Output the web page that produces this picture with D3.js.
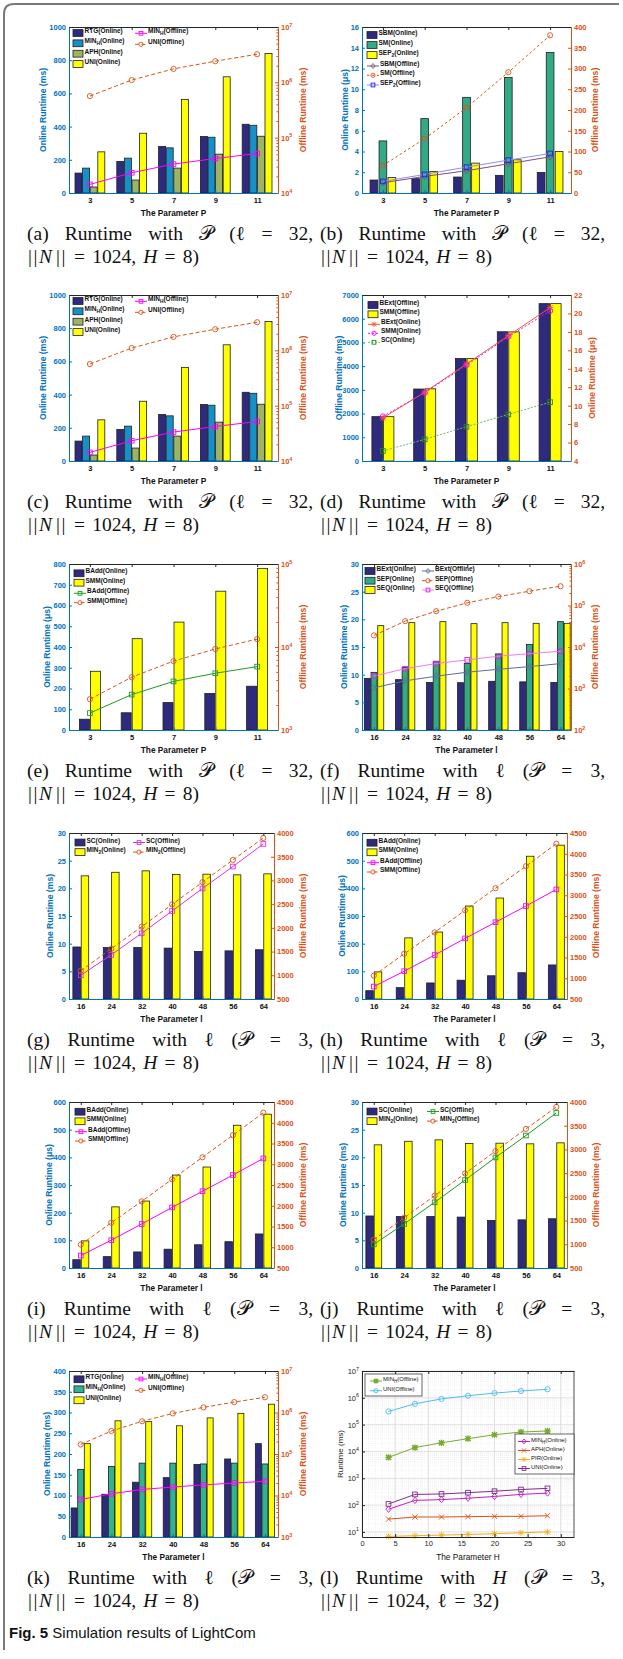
<!DOCTYPE html>
<html>
<head>
<meta charset="utf-8">
<script src="https://cdn.jsdelivr.net/npm/d3@7"></script>
<style>
  body { margin: 0; background: #fff; }
  svg { display: block; }
</style>
</head>
<body>
<svg id="fig" width="623" height="1659"></svg>
<script>
// ---- parameters on the x axes
const paramP = [3, 5, 7, 9, 11];
const paramL = [16, 24, 32, 40, 48, 56, 64];
const paramH = [4, 8, 12, 16, 20, 24, 28];

// (a) and (c): runtime with P
const rtgOnlineP = [120, 190, 280, 340, 414];
const minHOnlineP = [150, 210, 272, 336, 408];
const aphOnlineP = [36, 78, 150, 234, 342];
const uniOnlineP = [248, 360, 564, 700, 840];
const minHOfflineP = [14300, 23200, 33300, 42000, 51800];
const uniOfflineP = [565000, 1100000, 1750000, 2410000, 3220000];

// (b)
const sbmOnline = [1.25, 1.38, 1.54, 1.70, 1.98];
const smOnline = [5.02, 7.17, 9.22, 11.14, 13.54];
const sep2Online = [1.5, 2.08, 2.88, 3.2, 4.0];
const sbmOffline = [24.8, 40, 53.6, 70.4, 87.2];
const smOffline = [66.4, 131, 205.6, 291, 380];
const sep2Offline = [28, 44.8, 62.4, 79.2, 95.2];

// (d)
const bextOfflineP = [1870, 3035, 4320, 5450, 6636];
const smmOfflineP = [1870, 3045, 4320, 5445, 6636];
const bextOnlineP = [8.66, 11.46, 14.52, 17.58, 20.63];
const smmOnlineP = [8.83, 11.39, 14.4, 17.47, 20.27];
const scOnlineP = [5.09, 6.35, 7.72, 9.05, 10.38];

// (e)
const baddOnlineP = [52, 83, 132, 176, 211];
const smmOnlineE = [283, 440, 520, 669, 779];
const baddOfflineP = [1600, 2670, 3850, 4830, 5800];
const smmOfflineE = [2350, 4325, 6760, 9470, 12440];

// (f)
const bextOnlineL = [9.34, 9.1, 8.6, 8.55, 8.8, 8.7, 8.6];
const sepOnlineL = [10.42, 11.33, 12.35, 12.05, 13.73, 15.48, 19.58];
const seqOnlineL = [18.86, 19.4, 19.58, 19.22, 19.4, 19.28, 19.28];
const bextOfflineL = [1040, 1530, 1980, 2470, 2900, 3370, 3980];
const sepOfflineL = [19000, 42000, 73000, 116000, 164000, 221000, 291000];
const seqOfflineL = [2000, 3000, 4000, 4900, 6000, 6900, 7900];

// (g) and (j)
const scOnlineL = [9.4, 9.3, 9.3, 9.2, 8.6, 8.7, 8.9];
const min2OnlineL = [22.26, 22.9, 23.16, 22.5, 22.56, 22.44, 22.62];
const scOfflineL = [1000, 1430, 1885, 2355, 2831, 3293, 3769];
const min2OfflineL = [1095, 1560, 2025, 2494, 2964, 3433, 3895];

// (h) and (i)
const baddOnlineL = [30, 41, 58, 68, 84, 95, 123];
const smmOnlineL = [98, 221, 242, 336, 365, 516, 556];
const baddOfflineL = [800, 1170, 1560, 1960, 2350, 2740, 3140];
const smmOfflineL = [1064, 1590, 2105, 2637, 3170, 3700, 4242];

// (k)
const rtgOnlineL = [70, 103, 132, 143, 175, 188, 225];
const minHOnlineL = [163, 170, 178, 178, 176, 178, 176];
const uniOnlineL = [225, 280, 278, 268, 287, 298, 320];
const minHOfflineL = [8000, 11000, 14000, 16000, 18000, 20000, 22000];
const uniOfflineL = [170000, 359000, 615000, 950000, 1330000, 1780000, 2330000];

// (l): runtime with H
const minHOfflineH = [6000, 14000, 21000, 30000, 42000, 53000, 58000];
const uniOfflineH = [310000, 600000, 910000, 1200000, 1500000, 1800000, 2080000];
const minHOnlineH = [70, 150, 160, 180, 210, 250, 280];
const aphOnlineH = [30, 36, 36, 37, 38, 38, 40];
const pirOnlineH = [6.8, 7.2, 7.6, 8, 8.6, 9.3, 10];
const uniOnlineH = [110, 250, 260, 290, 330, 380, 420];

// tick labels
const ticksH = [0, 5, 10, 15, 20, 25, 30];

const svg = d3.select("#fig");
const PH = 166;
const NAVY = "#2e2a7e", BLUE = "#0072bd", ORANGE = "#d95319", YEL = "#ffff00";
const TEAL = "#33aa86", EDGE = "#1e1e1e";
const SANS = '"Liberation Sans", Arial, sans-serif';
const SERIF = '"Liberation Serif", "Times New Roman", serif';

// frame round the figure
svg.append("path")
  .attr("d", "M4,1650 L4,14 Q4,4 14,4 L619,4")
  .attr("fill", "none").attr("stroke", "#7a7a7a").attr("stroke-width", 2);

// text with _{sub} parts
function rich(sel, str, subSize) {
  let back = 0;
  str.split(/(_\{[^}]*\})/).forEach(p => {
    if (!p) return;
    if (p.startsWith("_{")) {
      sel.append("tspan").attr("dy", 2).attr("font-size", subSize).text(p.slice(2, -1));
      back = -2;
    } else {
      sel.append("tspan").attr("dy", back).text(p);
      back = 0;
    }
  });
}

function marker(g, type, cx, cy, color, s) {
  s = s || 2.6;
  const sw = 0.9;
  if (type === "circle") {
    g.append("circle").attr("cx", cx).attr("cy", cy).attr("r", s)
      .attr("fill", "none").attr("stroke", color).attr("stroke-width", sw);
  } else if (type === "square") {
    g.append("rect").attr("x", cx - s * 0.9).attr("y", cy - s * 0.9)
      .attr("width", s * 1.8).attr("height", s * 1.8)
      .attr("fill", "none").attr("stroke", color).attr("stroke-width", sw);
  } else if (type === "diamond") {
    g.append("path")
      .attr("d", `M${cx},${cy - s * 1.2}L${cx + s},${cy}L${cx},${cy + s * 1.2}L${cx - s},${cy}Z`)
      .attr("fill", "none").attr("stroke", color).attr("stroke-width", sw);
  } else if (type === "asterisk" || type === "x" || type === "star") {
    let d = `M${cx - s},${cy - s}L${cx + s},${cy + s}M${cx - s},${cy + s}L${cx + s},${cy - s}`;
    if (type !== "x") d += `M${cx},${cy - s * 1.2}L${cx},${cy + s * 1.2}M${cx - s * 1.2},${cy}L${cx + s * 1.2},${cy}`;
    g.append("path").attr("d", d).attr("stroke", color).attr("stroke-width", type === "star" ? 1.4 : sw);
    if (type === "star") g.append("circle").attr("cx", cx).attr("cy", cy).attr("r", s * 0.6).attr("fill", color);
  }
}

function legendItem(g, it, x, y, fs) {
  if (it.kind === "bar") {
    g.append("rect").attr("x", x).attr("y", y - 3.4).attr("width", 10).attr("height", 6.8)
      .attr("fill", it.c).attr("stroke", EDGE).attr("stroke-width", 0.8);
  } else {
    g.append("line").attr("x1", x).attr("x2", x + 12).attr("y1", y).attr("y2", y)
      .attr("stroke", it.c).attr("stroke-width", 1).attr("stroke-dasharray", it.dash || null);
    marker(g, it.m, x + 6, y, it.mc || it.c, 2.1);
  }
  const t = g.append("text").attr("x", x + (it.kind === "bar" ? 11.5 : 13)).attr("y", y)
    .attr("dy", "0.35em").attr("font-family", SANS).attr("font-size", fs)
    .attr("font-weight", it.plain ? "normal" : "bold").attr("fill", "#111");
  rich(t, it.label, fs * 0.75);
}

function expLabels(ax, size) {
  ax.selectAll(".tick text").each(function(d) {
    const t = d3.select(this).text("10");
    t.append("tspan").attr("dy", -size * 0.45).attr("font-size", size * 0.72)
      .text(Math.round(Math.log10(d)));
  });
}

function minorLog(domain) {
  const out = [];
  const lo = Math.floor(Math.log10(domain[0])), hi = Math.ceil(Math.log10(domain[1]));
  for (let e = lo; e < hi; e++)
    for (let m = 2; m <= 9; m++) {
      const v = m * Math.pow(10, e);
      if (v > domain[0] && v < domain[1]) out.push(v);
    }
  return out;
}

const plainNum = d => String(d);

function panel(c) {
  const g = svg.append("g");
  const bottom = c.top + PH;
  const x = d3.scaleLinear().domain(c.xDomain).range([c.x0, c.x1]);
  const yL = (c.yL.log ? d3.scaleLog() : d3.scaleLinear()).domain(c.yL.domain).range([bottom, c.top]);
  const yR = c.yR ? (c.yR.log ? d3.scaleLog() : d3.scaleLinear()).domain(c.yR.domain).range([bottom, c.top]) : null;
  const fs = 7.5;

  // grid (only panel l)
  if (c.grid) {
    const gg = g.append("g");
    minorLog(c.yL.domain).forEach(v => gg.append("line").attr("x1", c.x0).attr("x2", c.x1)
      .attr("y1", yL(v)).attr("y2", yL(v)).attr("stroke", "#e4e4e4").attr("stroke-width", 0.5).attr("stroke-dasharray", "1,1"));
    d3.range(0, 33, 1).forEach(v => gg.append("line").attr("y1", c.top).attr("y2", bottom)
      .attr("x1", x(v)).attr("x2", x(v)).attr("stroke", "#e4e4e4").attr("stroke-width", 0.5).attr("stroke-dasharray", "1,1"));
    c.yL.ticks.forEach(v => gg.append("line").attr("x1", c.x0).attr("x2", c.x1)
      .attr("y1", yL(v)).attr("y2", yL(v)).attr("stroke", "#d6d6d6").attr("stroke-width", 0.7));
    c.xTicks.forEach(v => gg.append("line").attr("y1", c.top).attr("y2", bottom)
      .attr("x1", x(v)).attr("x2", x(v)).attr("stroke", "#d6d6d6").attr("stroke-width", 0.7));
  }

  // bars
  const bars = c.bars || [];
  bars.forEach((b, i) => {
    const off = (i - (bars.length - 1) / 2) * c.barStep;
    g.append("g").selectAll("rect")
      .data(c.xs.map((v, j) => ({ x: v, y: b.v[j] })))
      .join("rect")
      .attr("x", d => x(d.x) + off - c.barWidth / 2)
      .attr("y", d => yL(d.y))
      .attr("width", c.barWidth)
      .attr("height", d => bottom - yL(d.y))
      .attr("fill", b.c).attr("stroke", EDGE).attr("stroke-width", 0.8);
  });

  // lines
  const yLine = yR || yL;
  (c.lines || []).forEach(l => {
    const pts = c.xs.map((v, j) => [x(v), yLine(l.v[j])]);
    g.append("path").attr("d", d3.line()(pts)).attr("fill", "none")
      .attr("stroke", l.c).attr("stroke-width", 1).attr("stroke-dasharray", l.dash || null);
    pts.forEach(p => marker(g, l.m, p[0], p[1], l.mc || l.c));
  });

  const axCol = c.plain ? "#262626" : null;
  const wgt = c.plain ? "normal" : "bold";

  // left axis
  const axL = g.append("g").attr("transform", `translate(${c.x0},0)`)
    .call(d3.axisLeft(yL).tickValues(c.yL.ticks).tickFormat(plainNum)
      .tickSize(-3).tickSizeOuter(0).tickPadding(3));
  axL.attr("font-family", SANS).attr("font-size", fs).attr("font-weight", wgt)
    .attr("color", axCol || BLUE);
  if (c.yL.log) expLabels(axL, fs);

  // right axis
  if (yR) {
    const axR = g.append("g").attr("transform", `translate(${c.x1},0)`)
      .call(d3.axisRight(yR).tickValues(c.yR.ticks).tickFormat(plainNum)
        .tickSize(-3).tickSizeOuter(0).tickPadding(3));
    axR.attr("font-family", SANS).attr("font-size", fs).attr("font-weight", "bold").attr("color", ORANGE);
    if (c.yR.log) {
      expLabels(axR, fs);
      const mn = g.append("g").attr("transform", `translate(${c.x1},0)`)
        .call(d3.axisRight(yR).tickValues(minorLog(c.yR.domain)).tickSize(-1.6).tickFormat(""));
      mn.attr("color", ORANGE).select(".domain").remove();
    }
  } else {
    g.append("line").attr("x1", c.x1).attr("x2", c.x1).attr("y1", c.top).attr("y2", bottom)
      .attr("stroke", "#262626").attr("stroke-width", 0.8);
  }

  // bottom axis
  const xt = c.xTicks || c.xs;
  const axB = g.append("g").attr("transform", `translate(0,${bottom})`)
    .call(d3.axisBottom(x).tickValues(xt).tickFormat(plainNum)
      .tickSize(-3).tickSizeOuter(0).tickPadding(c.plain ? 4 : 5));
  axB.attr("font-family", SANS).attr("font-size", fs).attr("font-weight", wgt)
    .attr("color", axCol || BLUE);
  axB.selectAll("text").attr("fill", axCol || "#111");
  axB.select(".domain").attr("stroke-width", 1);

  // top edge
  const axT = g.append("g").attr("transform", `translate(0,${c.top})`)
    .call(d3.axisTop(x).tickValues(xt).tickSize(-3).tickSizeOuter(0).tickFormat(""));
  axT.attr("color", "#262626");

  // axis titles
  g.append("text")
    .attr("transform", `translate(${c.x0 - c.ttlL},${c.top + PH / 2}) rotate(-90)`)
    .attr("text-anchor", "middle").attr("dy", "0.35em")
    .attr("font-family", SANS).attr("font-size", c.plain ? 8 : 8.6).attr("font-weight", wgt)
    .attr("fill", axCol || BLUE).text(c.yL.label);
  if (yR) {
    g.append("text")
      .attr("transform", `translate(${c.x1 + c.ttlR},${c.top + PH / 2}) rotate(-90)`)
      .attr("text-anchor", "middle").attr("dy", "0.35em")
      .attr("font-family", SANS).attr("font-size", 8.6).attr("font-weight", "bold")
      .attr("fill", ORANGE).text(c.yR.label);
  }
  g.append("text").attr("x", (c.x0 + c.x1) / 2).attr("y", bottom + 23)
    .attr("text-anchor", "middle").attr("font-family", SANS).attr("font-size", 8.3)
    .attr("font-weight", wgt).attr("fill", "#111").text(c.xLabel);

  // legends
  const ref = k => {
    const src = k[0] === "b" ? bars[+k.slice(1)] : c.lines[+k.slice(1)];
    return Object.assign({ kind: k[0] === "b" ? "bar" : "line", plain: c.plain }, src);
  };
  (c.legend || []).forEach(col => {
    if (col.box) {
      g.append("rect").attr("x", col.box[0]).attr("y", col.box[1])
        .attr("width", col.box[2]).attr("height", col.box[3])
        .attr("fill", "#fff").attr("stroke", "#262626").attr("stroke-width", 0.7);
    }
    col.items.forEach((k, i) => legendItem(g, ref(k), col.x, c.top + col.y + col.rows[i], col.fs || 6.5));
  });
}

// ---- captions
function justifyLine(x, y, width, tokens, size) {
  const items = tokens.map(tok => {
    const t = svg.append("text").attr("y", y).attr("font-family", SERIF)
      .attr("font-size", size).attr("fill", "#111");
    tok.split(/(<i>.*?<\/i>|<b>.*?<\/b>)/).forEach(p => {
      if (!p) return;
      if (p.startsWith("<i>")) t.append("tspan").attr("font-style", "italic").text(p.slice(3, -4));
      else if (p.startsWith("<b>")) t.append("tspan").attr("letter-spacing", 1.6).text(p.slice(3, -4));
      else t.append("tspan").text(p);
    });
    return t;
  });
  const ws = items.map(t => t.node().getComputedTextLength());
  const gap = (width - d3.sum(ws)) / (items.length - 1);
  let cx = x;
  items.forEach((t, i) => { t.attr("x", cx); cx += ws[i] + gap; });
}

function caption(col, top, letter, kind) {
  const x = col === 0 ? 27 : 320;
  const w = col === 0 ? 286 : 285;
  const norm = "<b>||</b><i>N</i>\u2009<b>||</b>";
  let l1, l2, w2;
  if (kind === "P") {
    l1 = [`(${letter})`, "Runtime", "with", "\u{1D4AB}", "(\u2113", "=", "32,"];
    l2 = [norm, "=", "1024,", "<i>H</i>", "=", "8)"]; w2 = 171;
  } else if (kind === "L") {
    l1 = [`(${letter})`, "Runtime", "with", "\u2113", "(\u{1D4AB}", "=", "3,"];
    l2 = [norm, "=", "1024,", "<i>H</i>", "=", "8)"]; w2 = 171;
  } else {
    l1 = [`(${letter})`, "Runtime", "with", "<i>H</i>", "(\u{1D4AB}", "=", "3,"];
    l2 = [norm, "=", "1024,", "\u2113", "=", "32)"]; w2 = 178;
  }
  justifyLine(x, top + 213, w, l1, 19.5);
  justifyLine(x + 1, top + 236, w2, l2, 19.5);
}

// ---- panel layout
const rowTop = [27, 295, 564, 833, 1102, 1371];

const cfgA = top => ({
  x0: 69, x1: 278, top, xs: paramP, xDomain: [2, 12], xLabel: "The Parameter P",
  yL: { domain: [0, 1000], ticks: d3.range(0, 1001, 200), label: "Online Runtime (ms)" },
  yR: { log: true, domain: [1e4, 1e7], ticks: [1e4, 1e5, 1e6, 1e7], label: "Offline Runtime (ms)" },
  ttlL: 26, ttlR: 25, barWidth: 7, barStep: 7.6,
  bars: [
    { v: rtgOnlineP, c: NAVY, label: "RTG(Online)" },
    { v: minHOnlineP, c: "#1690c8", label: "MIN_{H}(Online)" },
    { v: aphOnlineP, c: "#9db466", label: "APH(Online)" },
    { v: uniOnlineP, c: YEL, label: "UNI(Online)" }],
  lines: [
    { v: minHOfflineP, c: "#ff00ff", m: "square", label: "MIN_{H}(Offline)" },
    { v: uniOfflineP, c: ORANGE, m: "circle", dash: "4,2.5", label: "UNI(Offline)" }],
  legend: [
    { x: 73, y: 6, rows: [0, 10.3, 20.7, 31], items: ["b0", "b1", "b2", "b3"] },
    { x: 135, y: 6.3, rows: [0, 11], items: ["l0", "l1"] }]
});

const cfgB = {
  x0: 362, x1: 571, top: rowTop[0], xs: paramP, xDomain: [2, 12], xLabel: "The Parameter P",
  yL: { domain: [0, 16], ticks: d3.range(0, 17, 2), label: "Online Runtime (\u03BCs)" },
  yR: { domain: [0, 400], ticks: d3.range(0, 401, 50), label: "Offline Runtime (ms)" },
  ttlL: 17, ttlR: 24, barWidth: 7.7, barStep: 9,
  bars: [
    { v: sbmOnline, c: NAVY, label: "SBM(Online)" },
    { v: smOnline, c: TEAL, label: "SM(Online)" },
    { v: sep2Online, c: YEL, label: "SEP_{2}(Online)" }],
  lines: [
    { v: sbmOffline, c: "#7d4f7d", m: "diamond", label: "SBM(Offline)" },
    { v: smOffline, c: ORANGE, m: "circle", dash: "2.5,2.5", label: "SM(Offline)" },
    { v: sep2Offline, c: "#8a90f4", mc: "#1f1fff", m: "square", label: "SEP_{2}(Offline)" }],
  legend: [{ x: 367, y: 8, rows: [0, 10, 20, 31, 40.3, 50], items: ["b0", "b1", "b2", "l0", "l1", "l2"] }]
};

const cfgD = {
  x0: 362, x1: 571, top: rowTop[1], xs: paramP, xDomain: [2, 12], xLabel: "The Parameter P",
  yL: { domain: [0, 7000], ticks: d3.range(0, 7001, 1000), label: "Offline Runtime (ms)" },
  yR: { domain: [4, 22], ticks: d3.range(4, 23, 2), label: "Online Runtime (\u03BCs)" },
  ttlL: 23, ttlR: 21, barWidth: 10.5, barStep: 11.5,
  bars: [
    { v: bextOfflineP, c: NAVY, label: "BExt(Offline)" },
    { v: smmOfflineP, c: YEL, label: "SMM(Offline)" }],
  lines: [
    { v: bextOnlineP, c: "#e8602c", m: "asterisk", label: "BExt(Online)" },
    { v: smmOnlineP, c: "#ff00ff", m: "circle", dash: "2,2", label: "SMM(Online)" },
    { v: scOnlineP, c: "#6cb86c", mc: "#1e8c1e", m: "square", dash: "2,1.5", label: "SC(Online)" }],
  legend: [{ x: 368, y: 10, rows: [0, 9.3, 19.3, 28.3, 37.3], items: ["b0", "b1", "l0", "l1", "l2"] }]
};

const cfgE = {
  x0: 69, x1: 278, top: rowTop[2], xs: paramP, xDomain: [2, 12], xLabel: "The Parameter P",
  yL: { domain: [0, 800], ticks: d3.range(0, 801, 100), label: "Online Runtime (\u03BCs)" },
  yR: { log: true, domain: [1e3, 1e5], ticks: [1e3, 1e4, 1e5], label: "Offline Runtime (ms)" },
  ttlL: 22, ttlR: 25, barWidth: 10, barStep: 11,
  bars: [
    { v: baddOnlineP, c: NAVY, label: "BAdd(Online)" },
    { v: smmOnlineE, c: YEL, label: "SMM(Online)" }],
  lines: [
    { v: baddOfflineP, c: "#1f9a1f", m: "square", label: "BAdd(Offline)" },
    { v: smmOfflineE, c: ORANGE, m: "circle", dash: "4,2.5", label: "SMM(Offline)" }],
  legend: [{ x: 74, y: 9.3, rows: [0, 9.4, 20, 29.4], items: ["b0", "b1", "l0", "l1"] }]
};

const cfgF = {
  x0: 362, x1: 571, top: rowTop[2], xs: paramL, xDomain: [12.9, 66.7], xLabel: "The Parameter l",
  yL: { domain: [0, 30], ticks: d3.range(0, 31, 5), label: "Online Runtime (ms)" },
  yR: { log: true, domain: [1e2, 1e6], ticks: [1e2, 1e3, 1e4, 1e5, 1e6], label: "Offline Runtime (ms)" },
  ttlL: 18, ttlR: 24, barWidth: 6, barStep: 6.7,
  bars: [
    { v: bextOnlineL, c: NAVY, label: "BExt(Online)" },
    { v: sepOnlineL, c: TEAL, label: "SEP(Online)" },
    { v: seqOnlineL, c: YEL, label: "SEQ(Online)" }],
  lines: [
    { v: bextOfflineL, c: "#5a6e9c", m: "diamond", label: "BExt(Offline)" },
    { v: sepOfflineL, c: ORANGE, m: "circle", dash: "4,2.5", label: "SEP(Offline)" },
    { v: seqOfflineL, c: "#f27af2", mc: "#e020e0", m: "square", label: "SEQ(Offline)" }],
  legend: [
    { x: 365, y: 7, rows: [0, 9.7, 19], items: ["b0", "b1", "b2"] },
    { x: 422, y: 7, rows: [0, 9.7, 19], items: ["l0", "l1", "l2"] }]
};

const cfgSC = (x0, x1, top, lineColor, lx1, lx2) => ({
  x0, x1, top, xs: paramL, xDomain: [12.9, 66.8], xLabel: "The Parameter l",
  yL: { domain: [0, 30], ticks: d3.range(0, 31, 5), label: "Online Runtime (ms)" },
  yR: { domain: [500, 4000], ticks: d3.range(500, 4001, 500), label: "Offline Runtime (ms)" },
  ttlL: 19, ttlR: 29, barWidth: 7.5, barStep: 8.3,
  bars: [
    { v: scOnlineL, c: NAVY, label: "SC(Online)" },
    { v: min2OnlineL, c: YEL, label: "MIN_{2}(Online)" }],
  lines: [
    { v: scOfflineL, c: lineColor, m: "square", label: "SC(Offline)" },
    { v: min2OfflineL, c: ORANGE, m: "circle", dash: "4,2.5", label: "MIN_{2}(Offline)" }],
  legend: [
    { x: lx1, y: 9.5, rows: [0, 9.6], items: ["b0", "b1"] },
    { x: lx2, y: 9.5, rows: [0, 9.6], items: ["l0", "l1"] }]
});

const cfgBAdd = (x0, x1, top, lx) => ({
  x0, x1, top, xs: paramL, xDomain: [12.9, 66.8], xLabel: "The Parameter l",
  yL: { domain: [0, 600], ticks: d3.range(0, 601, 100), label: "Online Runtime (\u03BCs)" },
  yR: { domain: [500, 4500], ticks: d3.range(500, 4501, 500), label: "Offline Runtime (ms)" },
  ttlL: 20, ttlR: 29, barWidth: 7.5, barStep: 8.5,
  bars: [
    { v: baddOnlineL, c: NAVY, label: "BAdd(Online)" },
    { v: smmOnlineL, c: YEL, label: "SMM(Online)" }],
  lines: [
    { v: baddOfflineL, c: "#ff00ff", m: "square", label: "BAdd(Offline)" },
    { v: smmOfflineL, c: ORANGE, m: "circle", dash: "4,2.5", label: "SMM(Offline)" }],
  legend: [{ x: lx, y: 9.7, rows: [0, 9.6, 20, 29.3], items: ["b0", "b1", "l0", "l1"] }]
});

const cfgK = {
  x0: 69, x1: 278, top: rowTop[5], xs: paramL, xDomain: [12.95, 67.4], xLabel: "The Parameter l",
  yL: { domain: [0, 400], ticks: d3.range(0, 401, 50), label: "Online Runtime (ms)" },
  yR: { log: true, domain: [1e3, 1e7], ticks: [1e3, 1e4, 1e5, 1e6, 1e7], label: "Offline Runtime (ms)" },
  ttlL: 22, ttlR: 25, barWidth: 6, barStep: 6.6,
  bars: [
    { v: rtgOnlineL, c: NAVY, label: "RTG(Online)" },
    { v: minHOnlineL, c: "#2fb391", label: "MIN_{H}(Online)" },
    { v: uniOnlineL, c: YEL, label: "UNI(Online)" }],
  lines: [
    { v: minHOfflineL, c: "#ff00ff", m: "square", label: "MIN_{H}(Offline)" },
    { v: uniOfflineL, c: ORANGE, m: "circle", dash: "4,2.5", label: "UNI(Offline)" }],
  legend: [
    { x: 74, y: 8.3, rows: [0, 10, 21], items: ["b0", "b1", "b2"] },
    { x: 135, y: 8, rows: [0, 11.3], items: ["l0", "l1"] }]
};

const cfgL = {
  x0: 362, x1: 574, top: rowTop[5], xs: paramH, xTicks: ticksH, xDomain: [0, 32],
  xLabel: "The Parameter H", plain: true, grid: true,
  yL: { log: true, domain: [Math.pow(10, 0.81), 1e7], ticks: [1e1, 1e2, 1e3, 1e4, 1e5, 1e6, 1e7], label: "Runtime (ms)" },
  ttlL: 22,
  lines: [
    { v: minHOfflineH, c: "#77ac30", m: "star", label: "MIN_{H}(Offline)" },
    { v: uniOfflineH, c: "#4dbeee", m: "circle", label: "UNI(Offline)" },
    { v: minHOnlineH, c: "#c21fc2", m: "diamond", label: "MIN_{H}(Online)" },
    { v: aphOnlineH, c: ORANGE, m: "x", label: "APH(Online)" },
    { v: pirOnlineH, c: "#edb120", m: "asterisk", label: "PIR(Online)" },
    { v: uniOnlineH, c: "#7e2f8e", m: "square", label: "UNI(Online)" }],
  legend: [
    { box: [365, 1374, 57, 22], x: 370, y: 10, rows: [0, 9.7], items: ["l0", "l1"], fs: 6 },
    { box: [515, 1434, 59, 40], x: 518, y: 70.5, rows: [0, 9, 18, 27], items: ["l2", "l3", "l4", "l5"], fs: 6 }]
};

panel(cfgA(rowTop[0]));
panel(cfgB);
panel(cfgA(rowTop[1]));
panel(cfgD);
panel(cfgE);
panel(cfgF);
panel(cfgSC(69, 274, rowTop[3], "#e030e0", 75, 133));
panel(cfgBAdd(362, 567, rowTop[3], 367));
panel(cfgBAdd(69, 274, rowTop[4], 75));
panel(cfgSC(362, 567, rowTop[4], "#1e9a1e", 367, 427));
panel(cfgK);
panel(cfgL);

// captions
caption(0, rowTop[0], "a", "P");
caption(1, rowTop[0], "b", "P");
caption(0, rowTop[1], "c", "P");
caption(1, rowTop[1], "d", "P");
caption(0, rowTop[2], "e", "P");
caption(1, rowTop[2], "f", "L");
caption(0, rowTop[3], "g", "L");
caption(1, rowTop[3], "h", "L");
caption(0, rowTop[4], "i", "L");
caption(1, rowTop[4], "j", "L");
caption(0, rowTop[5], "k", "L");
caption(1, rowTop[5], "l", "H");

const fc = svg.append("text").attr("x", 9).attr("y", 1638)
  .attr("font-family", SANS).attr("font-size", 15).attr("fill", "#111");
fc.append("tspan").attr("font-weight", "bold").text("Fig. 5");
fc.append("tspan").text(" Simulation results of LightCom");
</script>
</body>
</html>
